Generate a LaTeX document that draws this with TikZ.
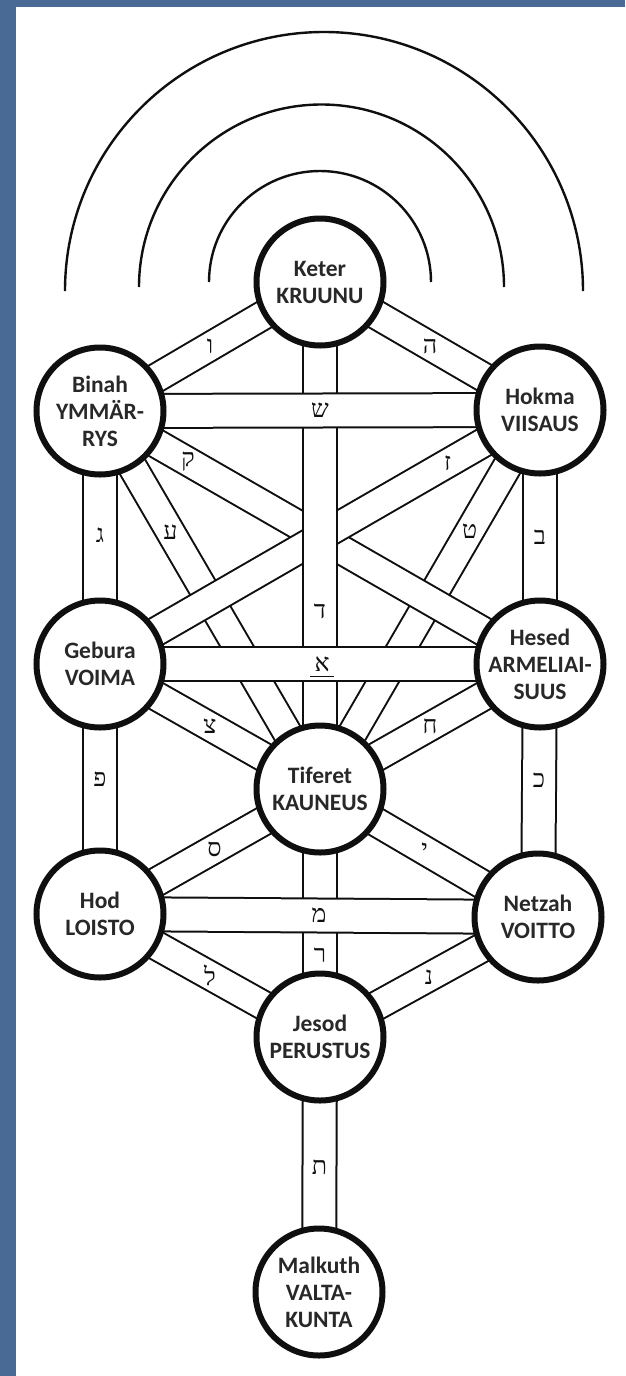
\documentclass[tikz,border=0pt]{standalone}
\usepackage{fontspec}
\setmainfont{Carlito}
\newfontfamily\hebfont[Script=Hebrew]{Liberation Serif}
\TeXXeTstate=1
\usetikzlibrary{calc}
\pgfdeclarelayer{bg}
\pgfdeclarelayer{bands}
\pgfsetlayers{bg,bands,main}
\definecolor{bgblue}{RGB}{74,106,150}
\definecolor{ink}{RGB}{15,15,15}
\definecolor{txt}{RGB}{40,40,40}
\begin{document}
\begin{tikzpicture}[x=1pt,y=-1pt,
  sef/.style={circle, draw=ink, line width=6pt, fill=white, minimum size=127pt,
    inner sep=0pt, align=center, text=txt,
    font=\fontsize{23.5}{27}\selectfont\bfseries},
  band/.style={draw=ink, line width=2pt, double=white, double distance=32pt},
  dband/.style={draw=ink, line width=2pt, double=white, double distance=27pt},
  lab/.style={font=\hebfont\fontsize{25}{25}\selectfont, text=ink, inner sep=0pt},
  arcline/.style={draw=ink, line width=2.4pt}]
\useasboundingbox (0,0) rectangle (625,1376);
\begin{pgfonlayer}{bg}
  \fill[bgblue] (0,0) rectangle (625,1376);
  \fill[white] (16,7) rectangle (625,1376);
\end{pgfonlayer}

% arcs above Keter
\draw[arcline] (65,291) arc[start angle=180, end angle=360, radius=259];
\draw[arcline] (139,287) arc[start angle=180, end angle=360, radius=182.5];
\draw[arcline] (209,282) arc[start angle=180, end angle=360, radius=111];

% sefirot
\node[sef] (keter)   at (320,282)  {Keter\\KRUUNU};
\node[sef] (binah)   at (100,411)  {Binah\\YMMÄR-\\RYS};
\node[sef] (hokma)   at (540,410)  {Hokma\\VIISAUS};
\node[sef] (gebura)  at (100,664)  {Gebura\\VOIMA};
\node[sef] (hesed)   at (540,664)  {Hesed\\ARMELIAI-\\SUUS};
\node[sef] (tiferet) at (320,789)  {Tiferet\\KAUNEUS};
\node[sef] (hod)     at (100,914)  {Hod\\LOISTO};
\node[sef] (netzah)  at (538,917)  {Netzah\\VOITTO};
\node[sef] (jesod)   at (320,1037) {Jesod\\PERUSTUS};
\node[sef] (malkuth) at (319,1292) {Malkuth\\VALTA-\\KUNTA};

% paths (bands)
\begin{pgfonlayer}{bands}
  \draw[dband] (binah.center) -- (tiferet.center);
  \draw[dband] (hokma.center) -- (tiferet.center);
  \draw[dband] (binah.center) -- (hesed.center);
  \draw[dband] (hokma.center) -- (gebura.center);
  \draw[band]  (keter.center) -- (tiferet.center);
  \draw[dband] (keter.center) -- (binah.center);
  \draw[dband] (keter.center) -- (hokma.center);
  \draw[band]  (binah.center) -- (hokma.center);
  \draw[band]  (gebura.center) -- (hesed.center);
  \draw[dband] (gebura.center) -- (tiferet.center);
  \draw[dband] (hesed.center) -- (tiferet.center);
  \draw[dband] (tiferet.center) -- (hod.center);
  \draw[dband] (tiferet.center) -- (netzah.center);
  \draw[band]  (binah.center) -- (gebura.center);
  \draw[band]  (hokma.center) -- (hesed.center);
  \draw[band]  (gebura.center) -- (hod.center);
  \draw[band]  (hesed.center) -- (netzah.center);
  \draw[band]  (tiferet.center) -- (jesod.center);
  \draw[band]  (hod.center) -- (netzah.center);
  \draw[dband] (hod.center) -- (jesod.center);
  \draw[dband] (netzah.center) -- (jesod.center);
  \draw[band]  (jesod.center) -- (malkuth.center);
\end{pgfonlayer}

% letters
\node[lab] (l-vav)    at ($(keter)!0.5!(binah)$)    {\beginR ו\endR};
\node[lab] (l-he)     at ($(keter)!0.5!(hokma)$)    {\beginR ה\endR};
\node[lab] (l-shin)   at ($(binah)!0.5!(hokma)$)    {\beginR ש\endR};
\node[lab] (l-qof)    at ($(binah)!0.2!(hesed)$)    {\beginR ק\endR};
\node[lab] (l-zayin)  at ($(hokma)!0.21!(gebura)$)  {\beginR ז\endR};
\node[lab] (l-ayin)   at ($(binah)!0.32!(tiferet)$) {\beginR ע\endR};
\node[lab] (l-tet)    at ($(hokma)!0.32!(tiferet)$) {\beginR ט\endR};
\node[lab] (l-gimel)  at ($(binah)!0.49!(gebura)$)  {\beginR ג\endR};
\node[lab] (l-bet)    at ($(hokma)!0.5!(hesed)$)    {\beginR ב\endR};
\node[lab] (l-dalet)  at ($(keter)!0.65!(tiferet)$) {\beginR ד\endR};
\node[lab] (l-alef)   at ($(gebura)!0.505!(hesed)$) {\beginR א\endR};
\draw[ink, line width=1pt] ([xshift=-12pt,yshift=-12pt]l-alef.center) -- ([xshift=12pt,yshift=-12pt]l-alef.center);
\node[lab] (l-tsadi)  at ($(gebura)!0.5!(tiferet)$) {\beginR צ\endR};
\node[lab] (l-het)    at ($(hesed)!0.5!(tiferet)$)  {\beginR ח\endR};
\node[lab] (l-pe)     at ($(gebura)!0.46!(hod)$)    {\beginR פ\endR};
\node[lab] (l-kaf)    at ($(hesed)!0.46!(netzah)$)  {\beginR כ\endR};
\node[lab] (l-samekh) at ($(tiferet)!0.48!(hod)$)   {\beginR ס\endR};
\node[lab] (l-yod)    at ($(tiferet)!0.48!(netzah)$) {\beginR י\endR};
\node[lab] (l-mem)    at ($(hod)!0.5!(netzah)$)     {\beginR מ\endR};
\node[lab] (l-resh)   at ($(tiferet)!0.67!(jesod)$) {\beginR ר\endR};
\node[lab] (l-lamed)  at ($(hod)!0.5!(jesod)$)      {\beginR ל\endR};
\node[lab] (l-nun)    at ($(netzah)!0.5!(jesod)$)   {\beginR נ\endR};
\node[lab] (l-tav)    at ($(jesod)!0.51!(malkuth)$) {\beginR ת\endR};
\end{tikzpicture}
\end{document}
